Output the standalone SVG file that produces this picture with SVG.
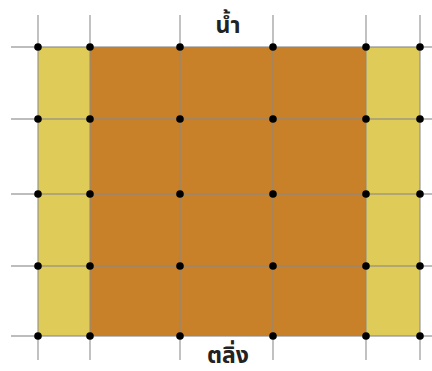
<svg xmlns="http://www.w3.org/2000/svg" width="432" height="371" viewBox="0 0 432 371">
<style>
.bank{fill:#dfcb58}
.water{fill:#c98129}
.grid line{stroke:#8a8a8a;stroke-opacity:0.75;stroke-width:1.4}
.pt{fill:#000}
.lbl{font-family:"Noto Sans","Noto Sans Thai","DejaVu Sans",sans-serif;font-size:23px;font-weight:bold;fill:#222;text-anchor:middle}
</style>
<rect width="432" height="371" fill="#fff"/>
<g id="bank-left"><rect class="bank" x="38" y="47" width="52" height="289"/></g>
<g id="water"><rect class="water" x="90" y="47" width="276" height="289"/></g>
<g id="bank-right"><rect class="bank" x="366" y="47" width="54" height="289"/></g>
<g id="connectors" class="grid">
<line x1="38" y1="15" x2="38" y2="360"/>
<line x1="90" y1="15" x2="90" y2="360"/>
<line x1="180" y1="15" x2="180" y2="360"/>
<line x1="273" y1="15" x2="273" y2="360"/>
<line x1="366" y1="15" x2="366" y2="360"/>
<line x1="420" y1="15" x2="420" y2="360"/>
<line x1="11" y1="47" x2="432" y2="47"/>
<line x1="11" y1="119" x2="432" y2="119"/>
<line x1="11" y1="194" x2="432" y2="194"/>
<line x1="11" y1="266" x2="432" y2="266"/>
<line x1="11" y1="336" x2="432" y2="336"/>
</g>
<g id="points">
<circle class="pt" cx="38" cy="47" r="3.8"/><circle class="pt" cx="90" cy="47" r="3.8"/><circle class="pt" cx="180" cy="47" r="3.8"/><circle class="pt" cx="273" cy="47" r="3.8"/><circle class="pt" cx="366" cy="47" r="3.8"/><circle class="pt" cx="420" cy="47" r="3.8"/>
<circle class="pt" cx="38" cy="119" r="3.8"/><circle class="pt" cx="90" cy="119" r="3.8"/><circle class="pt" cx="180" cy="119" r="3.8"/><circle class="pt" cx="273" cy="119" r="3.8"/><circle class="pt" cx="366" cy="119" r="3.8"/><circle class="pt" cx="420" cy="119" r="3.8"/>
<circle class="pt" cx="38" cy="194" r="3.8"/><circle class="pt" cx="90" cy="194" r="3.8"/><circle class="pt" cx="180" cy="194" r="3.8"/><circle class="pt" cx="273" cy="194" r="3.8"/><circle class="pt" cx="366" cy="194" r="3.8"/><circle class="pt" cx="420" cy="194" r="3.8"/>
<circle class="pt" cx="38" cy="266" r="3.8"/><circle class="pt" cx="90" cy="266" r="3.8"/><circle class="pt" cx="180" cy="266" r="3.8"/><circle class="pt" cx="273" cy="266" r="3.8"/><circle class="pt" cx="366" cy="266" r="3.8"/><circle class="pt" cx="420" cy="266" r="3.8"/>
<circle class="pt" cx="38" cy="336" r="3.8"/><circle class="pt" cx="90" cy="336" r="3.8"/><circle class="pt" cx="180" cy="336" r="3.8"/><circle class="pt" cx="273" cy="336" r="3.8"/><circle class="pt" cx="366" cy="336" r="3.8"/><circle class="pt" cx="420" cy="336" r="3.8"/>
</g>
<g id="label-water"><text class="lbl" x="228" y="33">น้ำ</text></g>
<g id="label-bank"><text class="lbl" x="228" y="363">ตลิ่ง</text></g>
</svg>
